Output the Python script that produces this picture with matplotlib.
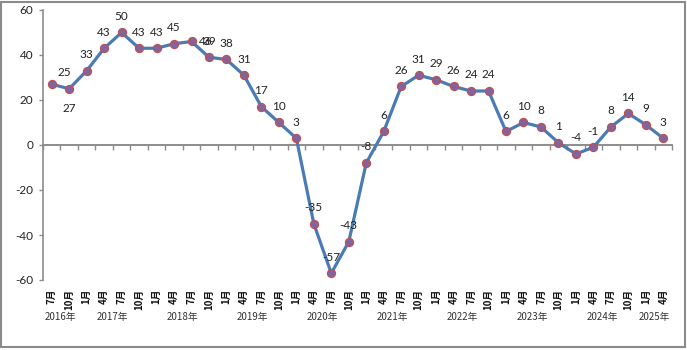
import matplotlib
matplotlib.use("Agg")
import matplotlib.pyplot as plt
from matplotlib.patches import Rectangle

# ---- data ----
months = ["7月", "10月"] + ["1月", "4月", "7月", "10月"] * 8 + ["1月", "4月"]
years = ["2016年", "2017年", "2018年", "2019年", "2020年",
         "2021年", "2022年", "2023年", "2024年", "2025年"]
values = [27, 25, 33, 43, 50, 43, 43, 45, 46, 39, 38, 31, 17, 10, 3,
          -35, -57, -43, -8, 6, 26, 31, 29, 26, 24, 24, 6, 10, 8, 1,
          -4, -1, 8, 14, 9, 3]
labels = ["25", "27", "33", "43", "50", "43", "43", "45", "46", "39", "38",
          "31", "17", "10", "3", "-35", "-57", "-43", "-8", "6", "26", "31",
          "29", "26", "24", "24", "6", "10", "8", "1", "-4", "-1", "8", "14",
          "9", "3"]
y_ticks = [-60, -40, -20, 0, 20, 40, 60]

# label offsets in pixels (default: centered 16px above point)
special_offsets = {0: (13, 12), 1: (0, -20), 8: (14, 0)}

NUM_FONT = "Lato"
CJK_FONT = ["Noto Sans CJK JP", "DejaVu Sans"]
GRAY = "#8c8c8c"

fig = plt.figure(figsize=(6.87, 3.5), dpi=100)
fig.patch.set_facecolor("white")
ax = fig.add_axes([43 / 687, 70 / 350, 629 / 687, 270 / 350])

x = list(range(len(values)))
ax.plot(x, values, color="#4A7BB2", lw=2.3, marker="o", ms=5.8,
        mfc="#8064A2", mec="#C0504D", mew=0.9, zorder=3, solid_joinstyle="round")

ax.set_xlim(-0.5, len(values) - 0.5)
ax.set_ylim(-60, 60)

# spines
for s in ["top", "right"]:
    ax.spines[s].set_visible(False)
ax.spines["left"].set_color(GRAY)
ax.spines["left"].set_linewidth(1.2)
ax.spines["bottom"].set_position(("data", 0))
ax.spines["bottom"].set_color(GRAY)
ax.spines["bottom"].set_linewidth(1.4)

# y ticks
ax.set_yticks(y_ticks)
ax.set_yticklabels([str(v) for v in y_ticks], fontfamily=NUM_FONT, fontsize=8.5,
                   color="#222222")
ax.tick_params(axis="y", direction="out", length=3, width=1, color=GRAY, pad=4)

# x ticks at category boundaries on zero line
bounds = [i - 0.5 for i in range(len(values) + 1)]
ax.set_xticks(bounds)
ax.set_xticklabels([""] * len(bounds))
ax.tick_params(axis="x", direction="out", length=3.5, width=1, color=GRAY)

# category labels
xt = ax.get_xaxis_transform()
for i, m in enumerate(months):
    ax.text(i, -0.033, m, transform=xt, rotation=90, ha="center", va="top",
            fontsize=7, fontweight="bold", fontfamily=CJK_FONT, color="#111111")

# year labels centered under their group
groups = []
start = 0
for i in range(1, len(months) + 1):
    if i == len(months) or months[i] == "1月":
        groups.append((start, i - 1))
        start = i
for (a, b), yname in zip(groups, years):
    ax.text((a + b) / 2, -0.137, yname, transform=xt, ha="center", va="center",
            fontsize=7, fontfamily=CJK_FONT, color="#333333")

# data labels
for i, (v, lab) in enumerate(zip(values, labels)):
    dx, dy = special_offsets.get(i, (0, 16))
    ax.annotate(lab, (i, v), xytext=(dx, dy), textcoords="offset pixels",
                ha="center", va="center", fontsize=8.5, fontfamily=NUM_FONT,
                color="#222222", zorder=4)

# outer border
fig.patches.append(Rectangle((1 / 687, 3 / 350), 684 / 687, 345 / 350,
                             transform=fig.transFigure, fill=False,
                             edgecolor="#8a8a8a", linewidth=1.5))

fig.savefig("out.png", dpi=100, facecolor="white")
